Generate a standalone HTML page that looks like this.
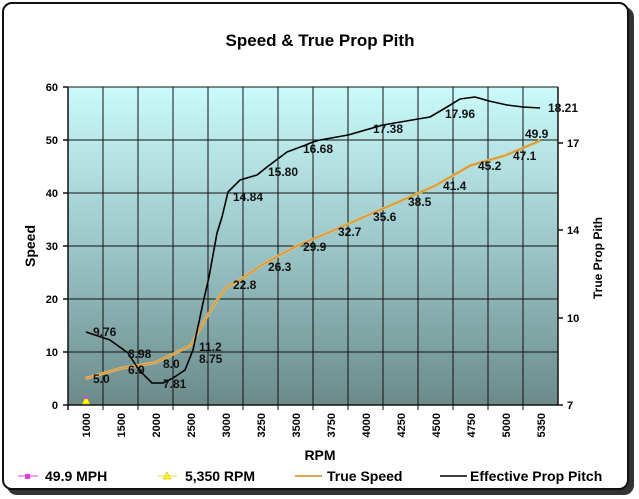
<!DOCTYPE html>
<html><head><meta charset="utf-8"><style>
body{margin:0;background:#fff;width:639px;height:499px;overflow:hidden;font-family:"Liberation Sans",sans-serif;position:relative}
#shadow{position:absolute;left:7px;top:7px;width:627px;height:488px;border-radius:10px;background:#333}
#frame{position:absolute;left:2px;top:2px;width:627px;height:488px;border-radius:10px;background:#fff;border:2px solid #111;box-sizing:border-box}
#plot{position:absolute;left:68px;top:87px;width:490px;height:318px;background:linear-gradient(to bottom,#cafafa 0%,#9cc6c8 50%,#6c8a8a 100%)}
svg{position:absolute;left:0;top:0}
</style></head><body>
<div id="shadow"></div><div id="frame"></div><div id="plot"></div>
<svg width="639" height="499" xmlns="http://www.w3.org/2000/svg" font-family="Liberation Sans, sans-serif">
<text x="320" y="46" font-size="17" font-weight="bold" text-anchor="middle">Speed &amp; True Prop Pith</text>
<g stroke="#111" stroke-width="1">
<path d="M68 87H558M68 140H558M68 193H558M68 246H558M68 299H558M68 352H558"/>
<path d="M103 87V410M138 87V410M173 87V410M208 87V410M243 87V410M278 87V410M313 87V410M348 87V410M383 87V410M418 87V410M453 87V410M488 87V410M523 87V410"/>
<path d="M68 87V405H558V87M558 405h5M558 318h5M558 230h5M558 143h5M63 87h5M63 140h5M63 193h5M63 246h5M63 299h5M63 352h5M63 405h5M68 405v5" stroke-width="1.5" fill="none"/>
</g>
<g font-size="11" font-weight="bold" text-anchor="end">
<text x="58" y="91">60</text><text x="58" y="144">50</text><text x="58" y="197">40</text><text x="58" y="250">30</text><text x="58" y="303">20</text><text x="58" y="356">10</text><text x="58" y="409">0</text>
</g>
<g font-size="11" font-weight="bold">
<text x="567" y="147">17</text><text x="567" y="234">14</text><text x="567" y="322">10</text><text x="567" y="409">7</text>
</g>
<text transform="translate(35 246) rotate(-90)" font-size="14" font-weight="bold" text-anchor="middle">Speed</text>
<text transform="translate(602 258) rotate(-90)" font-size="12" font-weight="bold" text-anchor="middle">True Prop Pith</text>
<text x="320" y="460" font-size="14" font-weight="bold" text-anchor="middle">RPM</text>
<g font-size="11" font-weight="bold" text-anchor="end">
<text transform="translate(90 413) rotate(-90)">1000</text>
<text transform="translate(125 413) rotate(-90)">1500</text>
<text transform="translate(160 413) rotate(-90)">2000</text>
<text transform="translate(195 413) rotate(-90)">2500</text>
<text transform="translate(230 413) rotate(-90)">3000</text>
<text transform="translate(265 413) rotate(-90)">3250</text>
<text transform="translate(300 413) rotate(-90)">3500</text>
<text transform="translate(335 413) rotate(-90)">3750</text>
<text transform="translate(370 413) rotate(-90)">4000</text>
<text transform="translate(405 413) rotate(-90)">4250</text>
<text transform="translate(440 413) rotate(-90)">4500</text>
<text transform="translate(475 413) rotate(-90)">4750</text>
<text transform="translate(510 413) rotate(-90)">5000</text>
<text transform="translate(545 413) rotate(-90)">5350</text>
</g>
<polyline fill="none" stroke="#e8b860" stroke-width="3" stroke-linejoin="round" points="85.5,378.5 120.5,368.4 155.5,362.6 190.5,345.6 205,320 217,300 227,287 240,280 260.5,265.6 295.5,246.5 330.5,231.7 365.5,216.3 400.5,201 435.5,185.6 470.5,165.4 505.5,155.4 540.5,140.5"/>
<polyline fill="none" stroke="#c89040" stroke-width="1" points="85.5,378.5 120.5,368.4 155.5,362.6 190.5,345.6 205,320 217,300 227,287 240,280 260.5,265.6 295.5,246.5 330.5,231.7 365.5,216.3 400.5,201 435.5,185.6 470.5,165.4 505.5,155.4 540.5,140.5"/>
<path fill="none" stroke="#000" stroke-width="1.6" stroke-linejoin="round" d="M86 332 L110 340 L128 353 L139 370 L152 383 L163 383 L173 378 L185 370 L193 350 L203 303 L209 277 L217 233 L222 217 L228 192 L240 180 L257 175 L267 167 L287 152 L303 146 L313 142 L320 140 L348 135 L383 125 L418 119 L430 117 L447 107 L460 99 L475 97 L489 101 L507 105 L523 107 L540 108"/>
<path d="M82 404 L86 396 L90 404Z" fill="#ff0" stroke="#c0a000" stroke-width="0.5"/>
<rect x="84" y="396" width="3" height="3" fill="#e040e0"/>
<g font-size="12" font-weight="bold" fill="#111">
<text x="93" y="383">5.0</text><text x="128" y="374">6.9</text><text x="163" y="368">8.0</text><text x="199" y="351">11.2</text>
<text x="233" y="289">22.8</text><text x="268" y="271">26.3</text><text x="303" y="251">29.9</text><text x="338" y="236">32.7</text>
<text x="373" y="221">35.6</text><text x="408" y="206">38.5</text><text x="443" y="190">41.4</text><text x="478" y="170">45.2</text>
<text x="513" y="160">47.1</text><text x="525" y="138">49.9</text>
<text x="93" y="336">9.76</text><text x="128" y="358">8.98</text><text x="163" y="388">7.81</text><text x="199" y="363">8.75</text>
<text x="233" y="201">14.84</text><text x="268" y="176">15.80</text><text x="303" y="153">16.68</text><text x="373" y="133">17.38</text>
<text x="445" y="118">17.96</text><text x="548" y="112">18.21</text>
</g>
<g font-size="14" font-weight="bold">
<rect x="25" y="474" width="5" height="5" fill="#e040e0"/><line x1="18" y1="476" x2="38" y2="476" stroke="#e040e0"/>
<text x="45" y="481">49.9 MPH</text>
<path d="M163 479 L167 472 L171 479Z" fill="#ff0" stroke="#c0a000" stroke-width="0.5"/><line x1="157" y1="476" x2="177" y2="476" stroke="#e0e040"/>
<text x="185" y="481">5,350 RPM</text>
<line x1="295" y1="476" x2="322" y2="476" stroke="#e0a840" stroke-width="2"/>
<text x="327" y="481">True  Speed</text>
<line x1="440" y1="476" x2="467" y2="476" stroke="#000" stroke-width="1.5"/>
<text x="470" y="481">Effective Prop Pitch</text>
</g>
</svg>
</body></html>
